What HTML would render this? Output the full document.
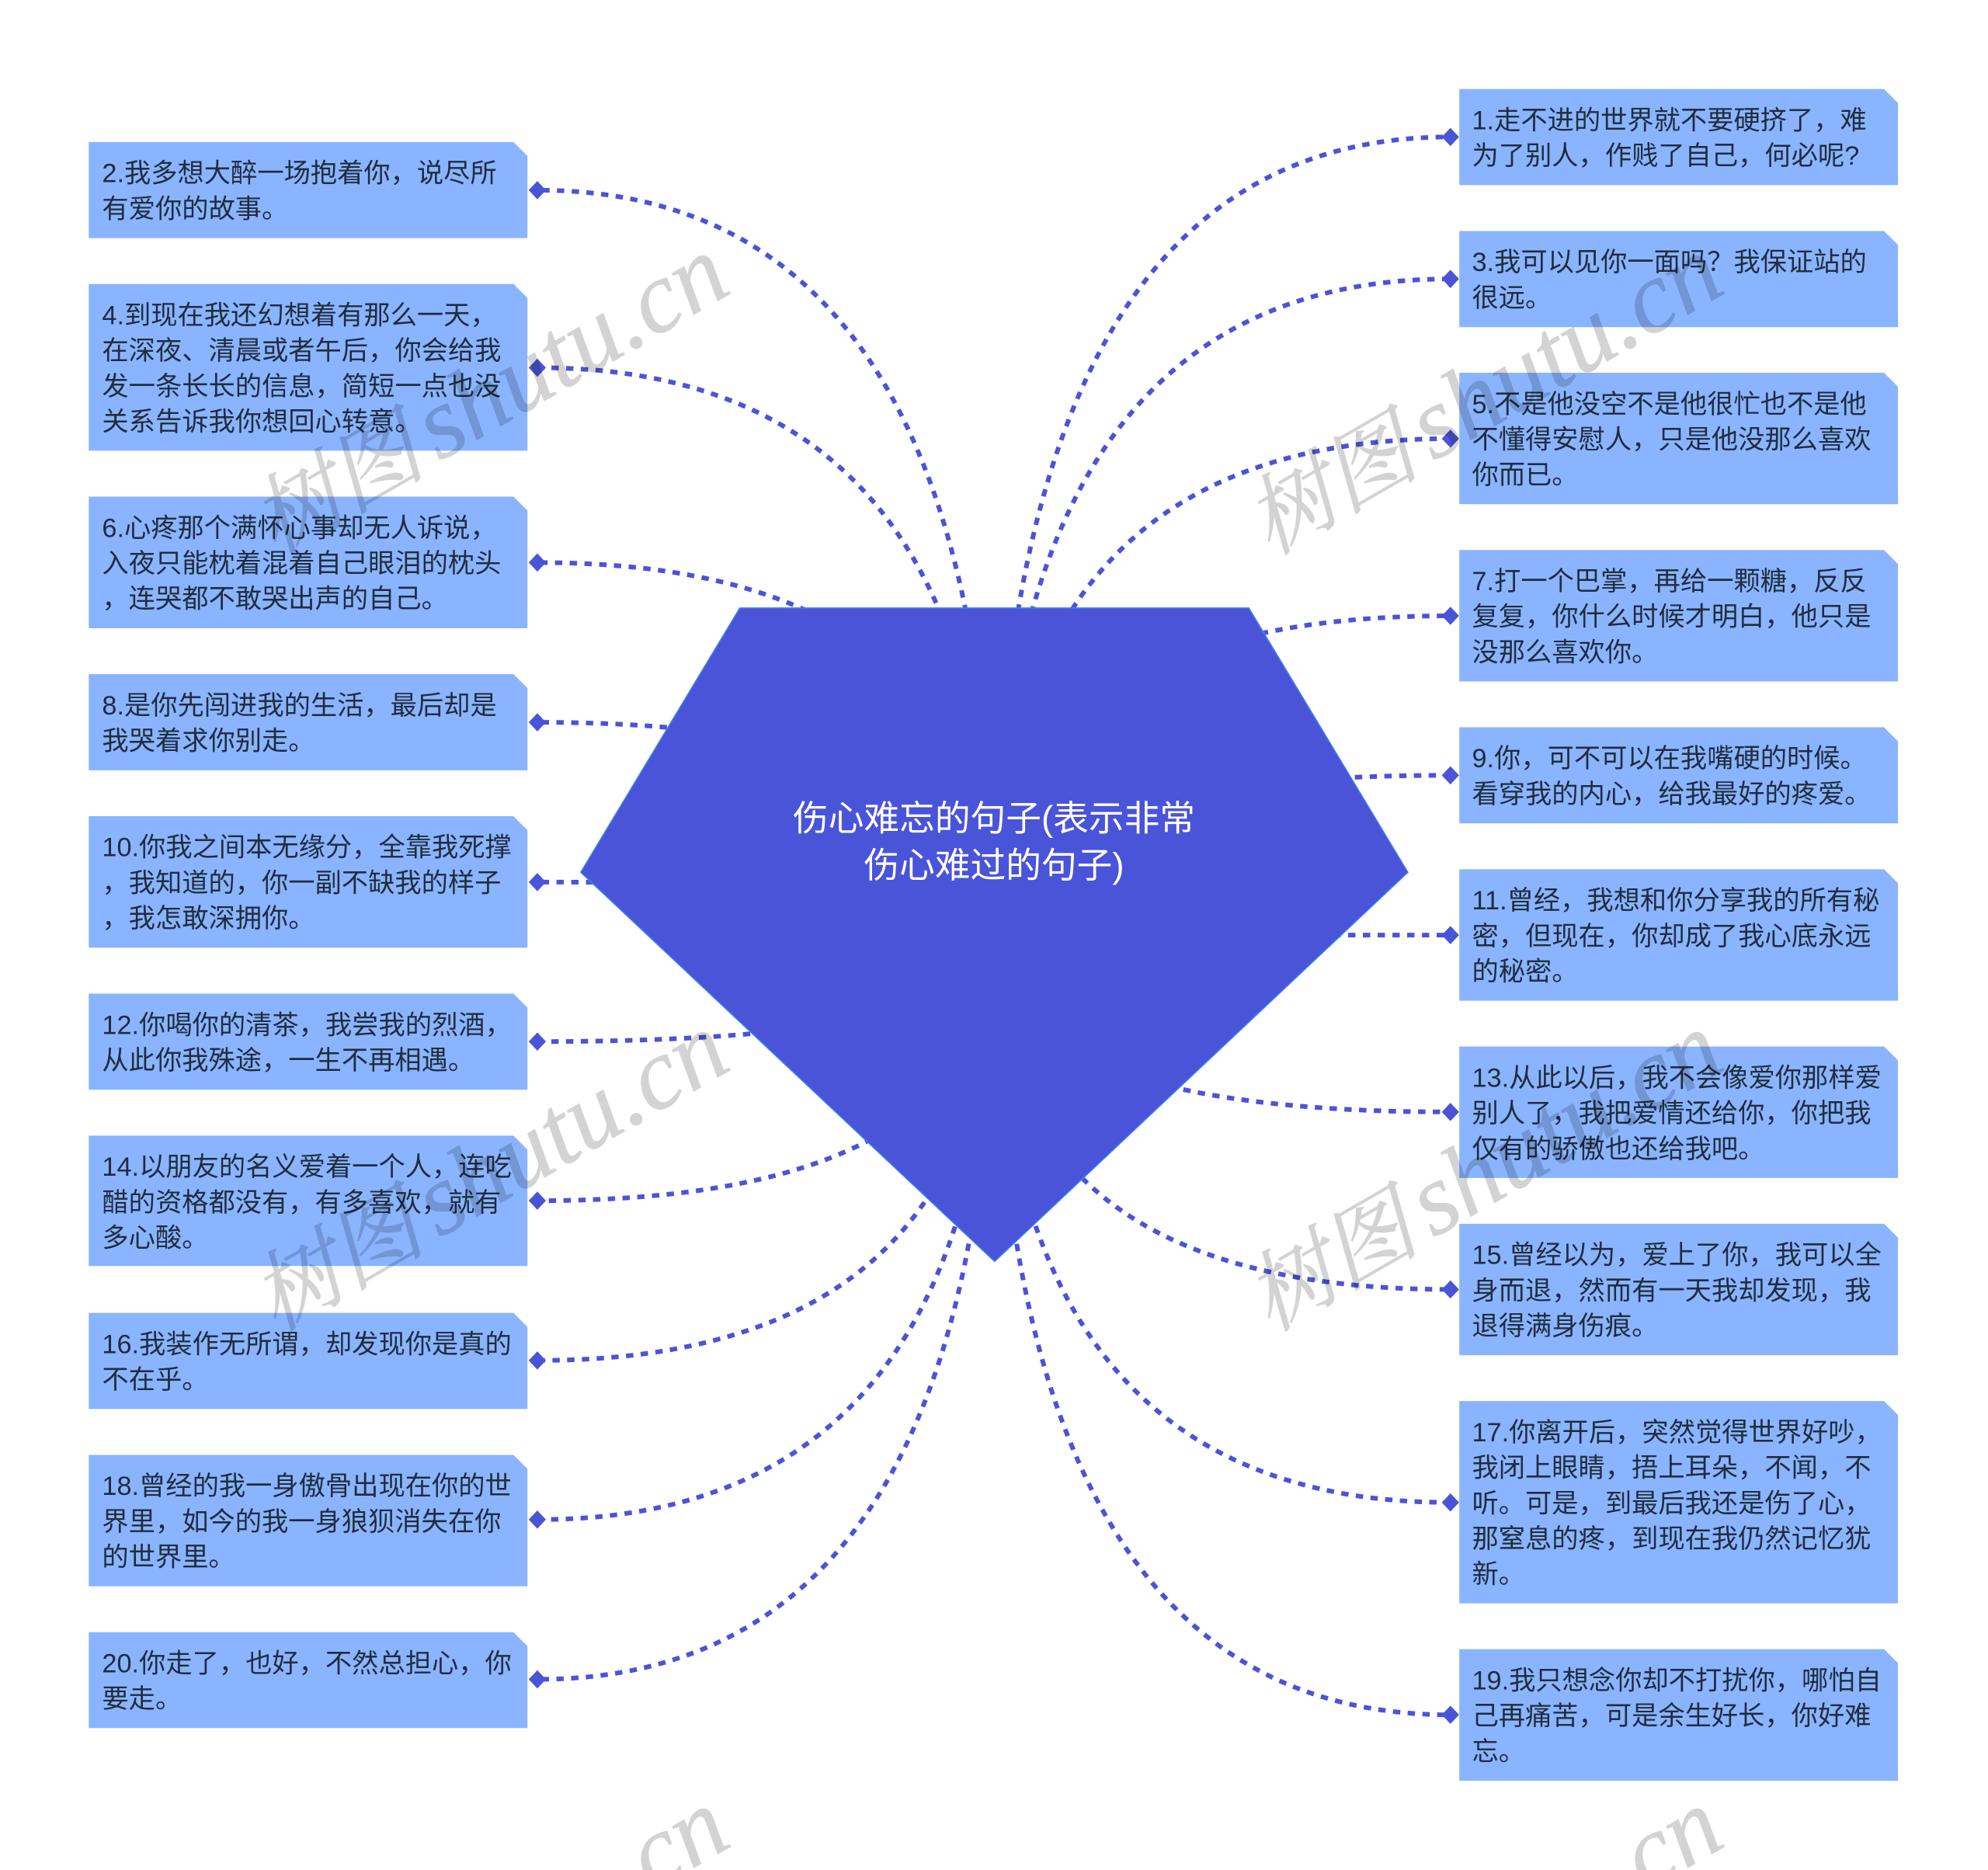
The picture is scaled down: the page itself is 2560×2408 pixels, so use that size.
<!DOCTYPE html>
<html lang="zh"><head><meta charset="utf-8"><title>伤心难忘的句子</title>
<style>
html,body{margin:0;padding:0;background:#fff}
svg{display:block;overflow:hidden}
.t{font-family:"Liberation Sans","Noto Sans CJK SC",sans-serif;font-size:21px;fill:#1f2d3d}
.c{font-family:"Liberation Sans","Noto Sans CJK SC",sans-serif;font-size:28px;fill:#fff;text-anchor:middle}
.w{font-family:"Liberation Serif","Noto Serif CJK SC",serif;font-style:italic;fill:#000;stroke:#000;stroke-width:.5;opacity:.17}
.l{fill:none;stroke:#4a54d6;stroke-width:3.67;stroke-dasharray:5.8 5.84}
.d{fill:#4a54d6}
.n{fill:#8ab4ff}
</style></head><body>
<svg xmlns="http://www.w3.org/2000/svg" width="2560" height="2408" viewBox="0 0 1568 1474.9">
<rect width="1568" height="1474.9" fill="#fff"/>
<path class="l" d="M784 737.5Q784 150 423.8 150"/>
<path class="l" d="M784 737.5Q784 290 423.8 290"/>
<path class="l" d="M784 737.5Q784 443.7 423.8 443.7"/>
<path class="l" d="M784 737.5Q784 569.7 423.8 569.7"/>
<path class="l" d="M784 737.5Q784 695.7 423.8 695.7"/>
<path class="l" d="M784 737.5Q784 821.5 423.8 821.5"/>
<path class="l" d="M784 737.5Q784 947 423.8 947"/>
<path class="l" d="M784 737.5Q784 1073 423.8 1073"/>
<path class="l" d="M784 737.5Q784 1198.5 423.8 1198.5"/>
<path class="l" d="M784 737.5Q784 1324.5 423.8 1324.5"/>
<path class="l" d="M784 737.5Q784 108 1144 108"/>
<path class="l" d="M784 737.5Q784 220 1144 220"/>
<path class="l" d="M784 737.5Q784 346 1144 346"/>
<path class="l" d="M784 737.5Q784 485.7 1144 485.7"/>
<path class="l" d="M784 737.5Q784 611.5 1144 611.5"/>
<path class="l" d="M784 737.5Q784 737.5 1144 737.5"/>
<path class="l" d="M784 737.5Q784 877 1144 877"/>
<path class="l" d="M784 737.5Q784 1017 1144 1017"/>
<path class="l" d="M784 737.5Q784 1185 1144 1185"/>
<path class="l" d="M784 737.5Q784 1352.5 1144 1352.5"/>
<polygon points="583.5,479.5 985,479.5 1110.5,688 784.5,995 458,688" fill="#4a54d8" stroke="#3f86ee" stroke-width=".9"/>
<text class="c" x="784" y="655">伤心难忘的句子(表示非常</text>
<text class="c" x="784" y="692">伤心难过的句子)</text>

<polygon class="n" points="70,112 405,112 416,123 416,187.8 70,187.8"/>
<polygon class="n" points="70,224 405,224 416,235 416,355.5 70,355.5"/>
<polygon class="n" points="70,391.7 405,391.7 416,402.7 416,495.5 70,495.5"/>
<polygon class="n" points="70,531.7 405,531.7 416,542.7 416,607.5 70,607.5"/>
<polygon class="n" points="70,643.7 405,643.7 416,654.7 416,747.5 70,747.5"/>
<polygon class="n" points="70,783.7 405,783.7 416,794.7 416,859.5 70,859.5"/>
<polygon class="n" points="70,895.7 405,895.7 416,906.7 416,998.5 70,998.5"/>
<polygon class="n" points="70,1035.5 405,1035.5 416,1046.5 416,1111.3 70,1111.3"/>
<polygon class="n" points="70,1147.5 405,1147.5 416,1158.5 416,1251.1 70,1251.1"/>
<polygon class="n" points="70,1287.3 405,1287.3 416,1298.3 416,1363 70,1363"/>
<polygon class="n" points="1151,70.2 1486,70.2 1497,81.2 1497,146 1151,146"/>
<polygon class="n" points="1151,182.2 1486,182.2 1497,193.2 1497,258 1151,258"/>
<polygon class="n" points="1151,294 1486,294 1497,305 1497,397.7 1151,397.7"/>
<polygon class="n" points="1151,433.8 1486,433.8 1497,444.8 1497,537.5 1151,537.5"/>
<polygon class="n" points="1151,573.6 1486,573.6 1497,584.6 1497,649.4 1151,649.4"/>
<polygon class="n" points="1151,685.6 1486,685.6 1497,696.6 1497,789.3 1151,789.3"/>
<polygon class="n" points="1151,825.4 1486,825.4 1497,836.4 1497,929.1 1151,929.1"/>
<polygon class="n" points="1151,965.2 1486,965.2 1497,976.2 1497,1068.9 1151,1068.9"/>
<polygon class="n" points="1151,1105 1486,1105 1497,1116 1497,1264.6 1151,1264.6"/>
<polygon class="n" points="1151,1300.7 1486,1300.7 1497,1311.7 1497,1404.5 1151,1404.5"/>

<polygon class="d" points="417,150 423.8,142.8 430.6,150 423.8,157.2"/>
<polygon class="d" points="417,290 423.8,282.8 430.6,290 423.8,297.2"/>
<polygon class="d" points="417,443.7 423.8,436.5 430.6,443.7 423.8,450.9"/>
<polygon class="d" points="417,569.7 423.8,562.5 430.6,569.7 423.8,576.9"/>
<polygon class="d" points="417,695.7 423.8,688.5 430.6,695.7 423.8,702.9"/>
<polygon class="d" points="417,821.5 423.8,814.3 430.6,821.5 423.8,828.7"/>
<polygon class="d" points="417,947 423.8,939.8 430.6,947 423.8,954.2"/>
<polygon class="d" points="417,1073 423.8,1065.8 430.6,1073 423.8,1080.2"/>
<polygon class="d" points="417,1198.5 423.8,1191.3 430.6,1198.5 423.8,1205.7"/>
<polygon class="d" points="417,1324.5 423.8,1317.3 430.6,1324.5 423.8,1331.7"/>
<polygon class="d" points="1137.2,108 1144,100.8 1150.8,108 1144,115.2"/>
<polygon class="d" points="1137.2,220 1144,212.8 1150.8,220 1144,227.2"/>
<polygon class="d" points="1137.2,346 1144,338.8 1150.8,346 1144,353.2"/>
<polygon class="d" points="1137.2,485.7 1144,478.5 1150.8,485.7 1144,492.9"/>
<polygon class="d" points="1137.2,611.5 1144,604.3 1150.8,611.5 1144,618.7"/>
<polygon class="d" points="1137.2,737.5 1144,730.3 1150.8,737.5 1144,744.7"/>
<polygon class="d" points="1137.2,877 1144,869.8 1150.8,877 1144,884.2"/>
<polygon class="d" points="1137.2,1017 1144,1009.8 1150.8,1017 1144,1024.2"/>
<polygon class="d" points="1137.2,1185 1144,1177.8 1150.8,1185 1144,1192.2"/>
<polygon class="d" points="1137.2,1352.5 1144,1345.3 1150.8,1352.5 1144,1359.7"/>

<g class="t">
<text x="80.5" y="143.7">2.我多想大醉一场抱着你，说尽所</text>
<text x="80.5" y="171.7">有爱你的故事。</text>
<text x="80.5" y="255.7">4.到现在我还幻想着有那么一天，</text>
<text x="80.5" y="283.7">在深夜、清晨或者午后，你会给我</text>
<text x="80.5" y="311.7">发一条长长的信息，简短一点也没</text>
<text x="80.5" y="339.7">关系告诉我你想回心转意。</text>
<text x="80.5" y="423.4">6.心疼那个满怀心事却无人诉说，</text>
<text x="80.5" y="451.4">入夜只能枕着混着自己眼泪的枕头</text>
<text x="80.5" y="479.4">，连哭都不敢哭出声的自己。</text>
<text x="80.5" y="563.4">8.是你先闯进我的生活，最后却是</text>
<text x="80.5" y="591.4">我哭着求你别走。</text>
<text x="80.5" y="675.4">10.你我之间本无缘分，全靠我死撑</text>
<text x="80.5" y="703.4">，我知道的，你一副不缺我的样子</text>
<text x="80.5" y="731.4">，我怎敢深拥你。</text>
<text x="80.5" y="815.4">12.你喝你的清茶，我尝我的烈酒，</text>
<text x="80.5" y="843.4">从此你我殊途，一生不再相遇。</text>
<text x="80.5" y="927.4">14.以朋友的名义爱着一个人，连吃</text>
<text x="80.5" y="955.4">醋的资格都没有，有多喜欢，就有</text>
<text x="80.5" y="983.4">多心酸。</text>
<text x="80.5" y="1067.2">16.我装作无所谓，却发现你是真的</text>
<text x="80.5" y="1095.2">不在乎。</text>
<text x="80.5" y="1179.2">18.曾经的我一身傲骨出现在你的世</text>
<text x="80.5" y="1207.2">界里，如今的我一身狼狈消失在你</text>
<text x="80.5" y="1235.2">的世界里。</text>
<text x="80.5" y="1319">20.你走了，也好，不然总担心，你</text>
<text x="80.5" y="1347">要走。</text>
<text x="1161" y="101.9">1.走不进的世界就不要硬挤了，难</text>
<text x="1161" y="129.9">为了别人，作贱了自己，何必呢?</text>
<text x="1161" y="213.9">3.我可以见你一面吗？我保证站的</text>
<text x="1161" y="241.9">很远。</text>
<text x="1161" y="325.7">5.不是他没空不是他很忙也不是他</text>
<text x="1161" y="353.7">不懂得安慰人，只是他没那么喜欢</text>
<text x="1161" y="381.7">你而已。</text>
<text x="1161" y="465.5">7.打一个巴掌，再给一颗糖，反反</text>
<text x="1161" y="493.5">复复，你什么时候才明白，他只是</text>
<text x="1161" y="521.5">没那么喜欢你。</text>
<text x="1161" y="605.3">9.你，可不可以在我嘴硬的时候。</text>
<text x="1161" y="633.3">看穿我的内心，给我最好的疼爱。</text>
<text x="1161" y="717.3">11.曾经，我想和你分享我的所有秘</text>
<text x="1161" y="745.3">密，但现在，你却成了我心底永远</text>
<text x="1161" y="773.3">的秘密。</text>
<text x="1161" y="857.1">13.从此以后，我不会像爱你那样爱</text>
<text x="1161" y="885.1">别人了，我把爱情还给你，你把我</text>
<text x="1161" y="913.1">仅有的骄傲也还给我吧。</text>
<text x="1161" y="996.9">15.曾经以为，爱上了你，我可以全</text>
<text x="1161" y="1024.9">身而退，然而有一天我却发现，我</text>
<text x="1161" y="1052.9">退得满身伤痕。</text>
<text x="1161" y="1136.7">17.你离开后，突然觉得世界好吵，</text>
<text x="1161" y="1164.7">我闭上眼睛，捂上耳朵，不闻，不</text>
<text x="1161" y="1192.7">听。可是，到最后我还是伤了心，</text>
<text x="1161" y="1220.7">那窒息的疼，到现在我仍然记忆犹</text>
<text x="1161" y="1248.7">新。</text>
<text x="1161" y="1332.4">19.我只想念你却不打扰你，哪怕自</text>
<text x="1161" y="1360.4">己再痛苦，可是余生好长，你好难</text>
<text x="1161" y="1388.4">忘。</text>
</g>

<text class="w" transform="translate(217.6,438.5) rotate(-30)"><tspan font-size="69">树图</tspan><tspan font-size="80" dx="10.8">shutu.cn</tspan></text>
<text class="w" transform="translate(1001.6,438.5) rotate(-30)"><tspan font-size="69">树图</tspan><tspan font-size="80" dx="10.8">shutu.cn</tspan></text>
<text class="w" transform="translate(217.6,1051) rotate(-30)"><tspan font-size="69">树图</tspan><tspan font-size="80" dx="10.8">shutu.cn</tspan></text>
<text class="w" transform="translate(1001.6,1051) rotate(-30)"><tspan font-size="69">树图</tspan><tspan font-size="80" dx="10.8">shutu.cn</tspan></text>
<text class="w" font-size="80" transform="translate(496.7,1502.4) rotate(-30)">.cn</text>
<text class="w" font-size="80" transform="translate(1280.7,1502.4) rotate(-30)">.cn</text>
</svg>
</body></html>
